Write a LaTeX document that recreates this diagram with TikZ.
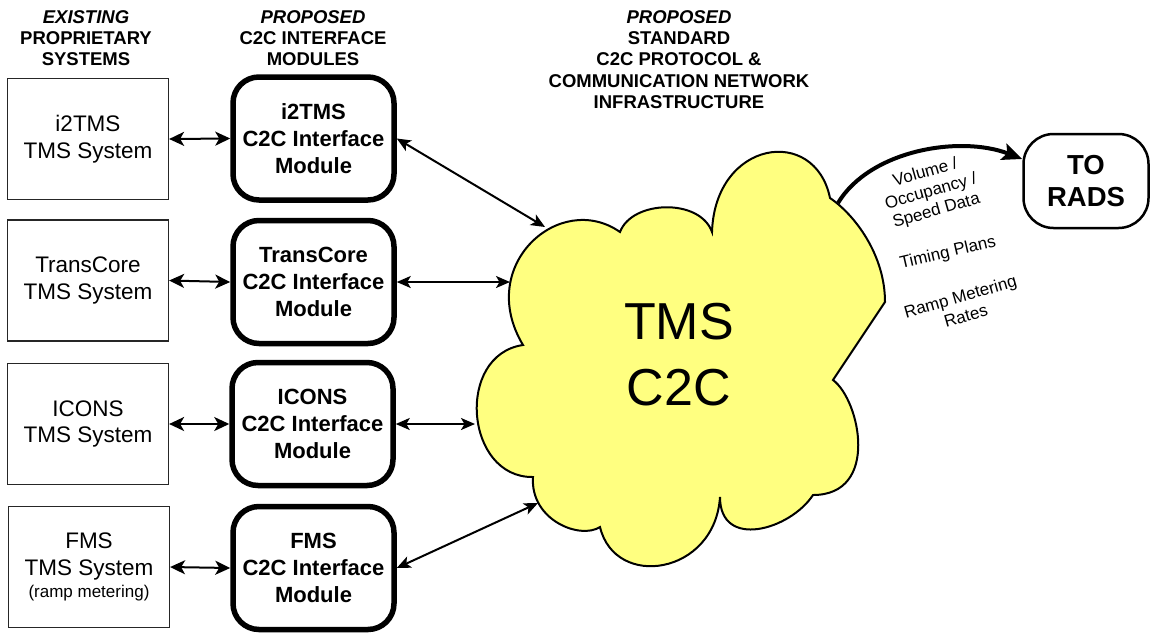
\documentclass[tikz,border=0pt]{standalone}
\usepackage{fontspec}
\setmainfont{Liberation Sans}
\usetikzlibrary{arrows.meta}
\definecolor{cloudyellow}{RGB}{255,255,128}
\begin{document}
\begin{tikzpicture}[x=1pt,y=-1pt,
  sysbox/.style={draw=black!85, line width=1.2pt, minimum width=161pt, minimum height=121pt, align=center, font=\fontsize{22.5}{26.5}\selectfont, inner sep=0pt},
  modbox/.style={draw, line width=5.5pt, rounded corners=26pt, minimum width=161pt, minimum height=123pt, align=center, font=\bfseries\fontsize{22}{27}\selectfont, inner sep=0pt},
  hdr/.style={align=center, font=\bfseries\fontsize{18.5}{21.2}\selectfont},
  dbl/.style={{Stealth[length=15pt,width=14pt,inset=4pt]}-{Stealth[length=15pt,width=14pt,inset=4pt]}, line width=2pt},
  dbl2/.style={{Stealth[length=14pt,width=12pt,inset=3.5pt]}-{Stealth[length=14pt,width=12pt,inset=3.5pt]}, line width=2pt},
  lbl/.style={align=center, font=\fontsize{17}{20}\selectfont, inner sep=0pt},
  cloudsty/.style={draw, line width=2pt, fill=cloudyellow, line join=miter}
]
\useasboundingbox (0,0) rectangle (1151,633);

% headers
\node[hdr] (h1) at (86,38) {\textit{EXISTING}\\PROPRIETARY\\SYSTEMS};
\node[hdr] (h2) at (313,38) {\textit{PROPOSED}\\C2C INTERFACE\\MODULES};
\node[hdr] (h3) at (679,59.5) {\textit{PROPOSED}\\STANDARD\\C2C PROTOCOL \&\\COMMUNICATION NETWORK\\INFRASTRUCTURE};

% cloud
\draw[cloudsty] (620,232) .. controls (632,200) and (700,198) .. (712,232)
 .. controls (715,140) and (815,125) .. (830,198)
 .. controls (855,215) and (885,255) .. (885,302)
 -- (833,380)
 .. controls (860,400) and (880,495) .. (813,495)
 .. controls (790,530) and (720,550) .. (720,497)
 .. controls (715,575) and (615,590) .. (600,527)
 .. controls (580,540) and (530,520) .. (533,477)
 .. controls (465,478) and (455,355) .. (523,345)
 .. controls (475,265) and (560,190) .. (620,232) -- cycle;
\node[font=\fontsize{52}{66}\selectfont, align=center] (tms) at (679,355) {TMS\\C2C};

\coordinate (c1) at (545,227);
\coordinate (c2) at (510,282);
\coordinate (c3) at (475,424);
\coordinate (c4) at (538,503);
\coordinate (crads) at (838,203);

% systems
\node[sysbox] (s1) at (88,139) {i2TMS\\TMS System};
\node[sysbox] (s2) at (88,280.5) {TransCore\\TMS System};
\node[sysbox] (s3) at (88,424) {ICONS\\TMS System};
\node[sysbox] (s4) at (89,567) {FMS\\TMS System\\[-4pt]{\fontsize{17}{20}\selectfont(ramp metering)}};

% modules
\node[modbox] (m1) at (313.5,138.5) {i2TMS\\C2C Interface\\Module};
\node[modbox] (m2) at (313.5,282) {TransCore\\C2C Interface\\Module};
\node[modbox] (m3) at (312.5,424) {ICONS\\C2C Interface\\Module};
\node[modbox] (m4) at (313.5,568) {FMS\\C2C Interface\\Module};

% RADS
\node[draw, line width=2.5pt, rounded corners=30pt, minimum width=125pt, minimum height=94pt, align=center, inner sep=0pt, font=\bfseries\fontsize{27.5}{32}\selectfont] (rads) at (1086,181) {TO\\RADS};

% connectors
\draw[dbl] (s1.east) -- (m1.west);
\draw[dbl] (s2.east) -- (m2.west);
\draw[dbl] (s3.east) -- (m3.west);
\draw[dbl] (s4.east) -- (m4.west);

\draw[dbl2] (m1.east) -- (c1);
\draw[dbl2] (m2.east) -- (c2);
\draw[dbl2] (m3.east) -- (c3);
\draw[dbl2] (m4.east) -- (c4);

\draw[line width=4pt, -{Stealth[length=20pt,width=17pt,inset=4pt]}] (crads) .. controls (870,150) and (960,135) .. ([yshift=22pt]rads.west);

% labels
\node[lbl, rotate=16] (l1) at (931,192) {Volume /\\Occupancy /\\Speed Data};
\node[lbl, rotate=13] (l2) at (948,253) {Timing Plans};
\node[lbl, rotate=16] (l3) at (963,306) {Ramp Metering\\Rates};
\end{tikzpicture}
\end{document}
